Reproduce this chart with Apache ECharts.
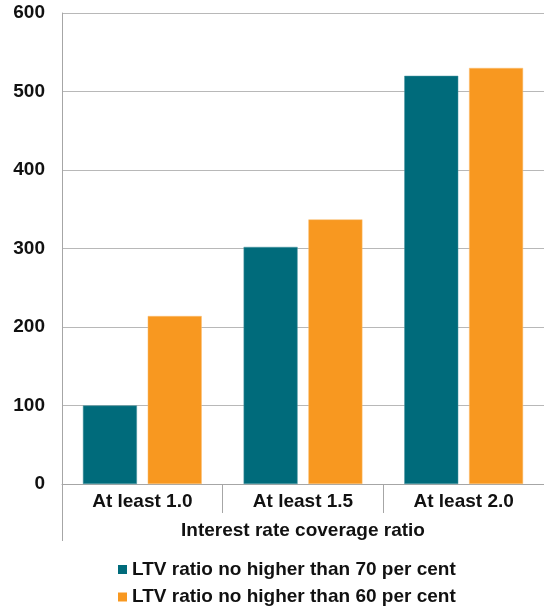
<!DOCTYPE html>
<html>
<head>
<meta charset="utf-8">
<script src="https://cdn.jsdelivr.net/npm/echarts@6/dist/echarts.min.js"></script>
<style>
  html, body { margin: 0; padding: 0; background: #fff; }
  #chartPanel { width: 544px; height: 607px; }
</style>
</head>
<body>
<div id="chartPanel"></div>
<script>
// categories and values
var categories = ['At least 1.0', 'At least 1.5', 'At least 2.0'];
var ltv70 = [100, 302, 520];
var ltv60 = [214, 337, 530];
var yTicks = { min: 0, max: 600, interval: 100 };

var seriesNames = ['LTV ratio no higher than 70 per cent', 'LTV ratio no higher than 60 per cent'];
var axisColor = '#a6a6a6';
var font = '"Liberation Sans", Arial, sans-serif';

var chartPanel = echarts.init(document.getElementById('chartPanel'));

var option = {
  animation: false,
  grid: {
    left: 62,
    top: 13,
    width: 485,
    height: 471
  },
  legend: {
    orient: 'vertical',
    left: 118,
    top: 560,
    padding: 0,
    itemWidth: 9,
    itemHeight: 9,
    itemGap: 8.5,
    icon: 'rect',
    itemStyle: { borderWidth: 0 },
    textStyle: {
      fontFamily: font,
      fontSize: 19,
      fontWeight: 'bold',
      color: '#111',
      lineHeight: 19
    },
    data: seriesNames
  },
  xAxis: {
    type: 'category',
    data: categories,
    name: 'Interest rate coverage ratio',
    nameLocation: 'middle',
    nameGap: 37,
    nameTextStyle: {
      fontFamily: font,
      fontSize: 19,
      fontWeight: 'bold',
      color: '#111'
    },
    axisLine: { lineStyle: { color: axisColor, width: 1 } },
    axisTick: {
      show: true,
      interval: 0,
      length: 29,
      lineStyle: { color: axisColor }
    },
    axisLabel: {
      margin: 8,
      fontFamily: font,
      fontSize: 19,
      fontWeight: 'bold',
      color: '#111'
    }
  },
  yAxis: {
    type: 'value',
    min: yTicks.min,
    max: yTicks.max,
    interval: yTicks.interval,
    axisLine: { show: true, lineStyle: { color: axisColor } },
    axisTick: { show: false },
    splitLine: { lineStyle: { color: '#b8b8b8', width: 1 } },
    axisLabel: {
      margin: 17,
      fontFamily: font,
      fontSize: 19,
      fontWeight: 'bold',
      color: '#111'
    }
  },
  series: [
    {
      name: seriesNames[0],
      type: 'bar',
      barWidth: 54,
      barGap: '20%',
      itemStyle: { color: '#006b7b', borderColor: '#4a97a3', borderWidth: 0.5 },
      data: ltv70
    },
    {
      name: seriesNames[1],
      type: 'bar',
      barWidth: 54,
      barGap: '20%',
      itemStyle: { color: '#f89820', borderColor: '#fbbf73', borderWidth: 0.5 },
      data: ltv60
    }
  ]
};
chartPanel.setOption(option);

// the y axis line runs on down past the category labels
var p0 = chartPanel.convertToPixel({ gridIndex: 0 }, [0, 0]);
var leftX = 62;
chartPanel.setOption({
  graphic: [{
    type: 'line',
    shape: { x1: leftX + 0.5, y1: p0[1], x2: leftX + 0.5, y2: p0[1] + 57 },
    style: { stroke: axisColor, lineWidth: 1 },
    silent: true
  }]
});
</script>
</body>
</html>
